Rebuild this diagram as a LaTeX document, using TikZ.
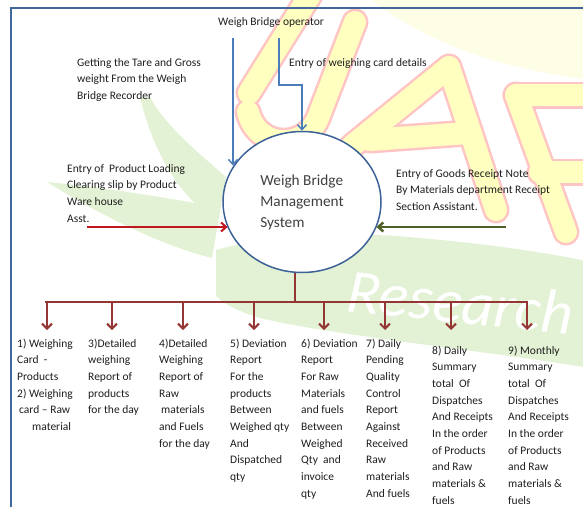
\documentclass[tikz,border=0pt]{standalone}
\usepackage{fontspec}
\setmainfont{Carlito}
\usetikzlibrary{arrows.meta,shapes.geometric}
\definecolor{frameblue}{HTML}{41679C}
\definecolor{arrblue}{HTML}{4A7DBA}
\definecolor{ellblue}{HTML}{3C6297}
\definecolor{arrred}{HTML}{C0181E}
\definecolor{arrgreen}{HTML}{4F6228}
\definecolor{arrbrown}{HTML}{943634}
\definecolor{txt}{HTML}{1E1E1E}
\definecolor{ctxt}{HTML}{404040}
\definecolor{wmgreen}{HTML}{E3F2D5}
\definecolor{wmyellow}{HTML}{FFFFC0}
\definecolor{wmpink}{HTML}{FFC4C4}
\definecolor{wmpale}{HTML}{FEFEE6}
\begin{document}
\begin{tikzpicture}[x=1pt,y=-1pt,
  lbl/.style={anchor=base west, inner sep=0pt, align=left, text=txt,
    font=\fontsize{11.5}{16.7}\selectfont},
  wmout/.style={draw=wmpink, line width=27pt, line cap=round, line join=round},
  wmin/.style={draw=wmyellow, line width=22pt, line cap=round, line join=round},
  bluearrow/.style={draw=arrblue, line width=1.5pt, -{Straight Barb[length=5pt,width=9pt]}},
  brownline/.style={draw=arrbrown, line width=2pt},
  brownarrow/.style={brownline, -{Straight Barb[length=5pt,width=10pt]}},
]
\useasboundingbox (0,0) rectangle (583,506);
% ---------- watermark ----------
\begin{scope}
\clip (0,0) rectangle (583,506);
\fill[wmpale] (372,0) .. controls (430,45) and (500,68) .. (590,80) -- (590,0) -- cycle;
% leaf
\fill[wmgreen] (140,97) .. controls (150,140) and (170,180) .. (195,203)
  .. controls (150,195) and (90,186) .. (47,182)
  .. controls (100,215) and (160,245) .. (212,258)
  -- (226,177) .. controls (195,150) and (165,125) .. (150,97) -- cycle;
% band
\fill[wmgreen] (216,250) .. controls (280,232) and (360,232) .. (420,238)
  .. controls (500,245) and (560,255) .. (590,262)
  -- (590,368) .. controls (480,350) and (330,335) .. (260,318)
  .. controls (240,312) and (225,305) .. (216,296) -- cycle;
\node[anchor=base west, rotate=-6, text=white, inner sep=0pt,
  font=\fontsize{62}{62}\selectfont\itshape] (wmres) at (345,311) {Research};
% letters
\draw[wmout] (310,-5) -- (249,93);
\draw[wmout] (355,22) -- (318,118) .. controls (305,150) and (258,150) .. (248,112);
\draw[wmout] (352,146) -- (449,67) -- (496,210);
\draw[wmout] (370,140) -- (468,133);
\draw[wmout] (516,95) -- (566,232);
\draw[wmout] (516,95) -- (610,95);
\draw[wmout] (540,172) -- (610,172);
\draw[wmin] (310,-5) -- (249,93);
\draw[wmin] (355,22) -- (318,118) .. controls (305,150) and (258,150) .. (248,112);
\draw[wmin] (352,146) -- (449,67) -- (496,210);
\draw[wmin] (370,140) -- (468,133);
\draw[wmin] (516,95) -- (566,232);
\draw[wmin] (516,95) -- (610,95);
\draw[wmin] (540,172) -- (610,172);
\end{scope}
% ---------- frame ----------
\draw[frameblue, line width=1.6pt] (600,8) -- (11,8) -- (11,520);
% ---------- central process ----------
\node[ellipse, draw=ellblue, line width=1.5pt, fill=white, minimum width=158pt,
  minimum height=141pt, inner sep=0pt, align=left, text=ctxt,
  font=\fontsize{15.3}{21}\selectfont] (wb) at (302,202)
  {Weigh Bridge\\Management\\System};
% ---------- inputs (base = baseline of last line) ----------
\node[lbl] (op) at (218,25) {Weigh Bridge operator};
\node[lbl] (tare) at (77,99.4) {Getting the Tare and Gross\\weight From the Weigh\\Bridge Recorder};
\node[lbl] (card) at (289,66) {Entry of weighing card details};
\node[lbl] (slip) at (67,222.1) {Entry of\ \ Product Loading\\Clearing slip by Product\\Ware house\\Asst.};
\node[lbl] (grn) at (396,210.4) {Entry of Goods Receipt Note\\By Materials department Receipt\\Section Assistant.};
\coordinate (op1) at (233,38);
\coordinate (op2) at (279,38);
\coordinate (opbend) at (279,85);
\coordinate (r0) at (87,227);
\coordinate (g0) at (506,227);
\draw[bluearrow] (op1) -- (op1 |- wb.152);
\draw[bluearrow] (op2) -- (opbend) -| (wb.north);
\draw[draw=arrred, line width=2pt, -{Straight Barb[length=5pt,width=9pt]}] (r0) -- (r0 -| wb.199);
\draw[draw=arrgreen, line width=2.5pt, -{Straight Barb[length=5pt,width=9pt]}] (g0) -- (g0 -| wb.-19);
% ---------- outputs ----------
\coordinate (busL) at (45,302);
\coordinate (busR) at (528,302);
\draw[brownline] (wb.264) -- (wb.264 |- busL);
\draw[brownline] (busL) -- (busR);
\foreach \n/\x in {1/47,2/112,3/183,4/254,5/324,6/385,7/451,8/527}{
  \coordinate (t\n) at (\x,330);
  \draw[brownarrow] (t\n |- busL) -- (t\n);
}
\node[lbl] (o1) at (17,430.5) {1) Weighing\\Card\ \ -\\Products\\2) Weighing\\\hspace*{2pt}card -- Raw\\\hspace*{15pt}material};
\node[lbl] (o2) at (88,413.8) {3)Detailed\\weighing\\Report of\\products\\for the day};
\node[lbl] (o3) at (159,447.2) {4)Detailed\\Weighing\\Report of\\Raw\\\hspace*{2pt}materials\\and Fuels\\for the day};
\node[lbl] (o4) at (230,480.6) {5) Deviation\\Report\\For the\\products\\Between\\Weighed qty\\And\\Dispatched\\qty};
\node[lbl] (o5) at (301,497.3) {6) Deviation\\Report\\For Raw\\Materials\\and fuels\\Between\\Weighed\\Qty\ \ and\\invoice\\qty};
\node[lbl] (o6) at (366,497.3) {7) Daily\\Pending\\Quality\\Control\\Report\\Against\\Received\\Raw\\materials\\And fuels};
\node[lbl] (o7) at (432,504.3) {8) Daily\\Summary\\total\ \ Of\\Dispatches\\And Receipts\\In the order\\of Products\\and Raw\\materials \&\\fuels};
\node[lbl] (o8) at (508,504.3) {9) Monthly\\Summary\\total\ \ Of\\Dispatches\\And Receipts\\In the order\\of Products\\and Raw\\materials \&\\fuels};
\end{tikzpicture}
\end{document}
